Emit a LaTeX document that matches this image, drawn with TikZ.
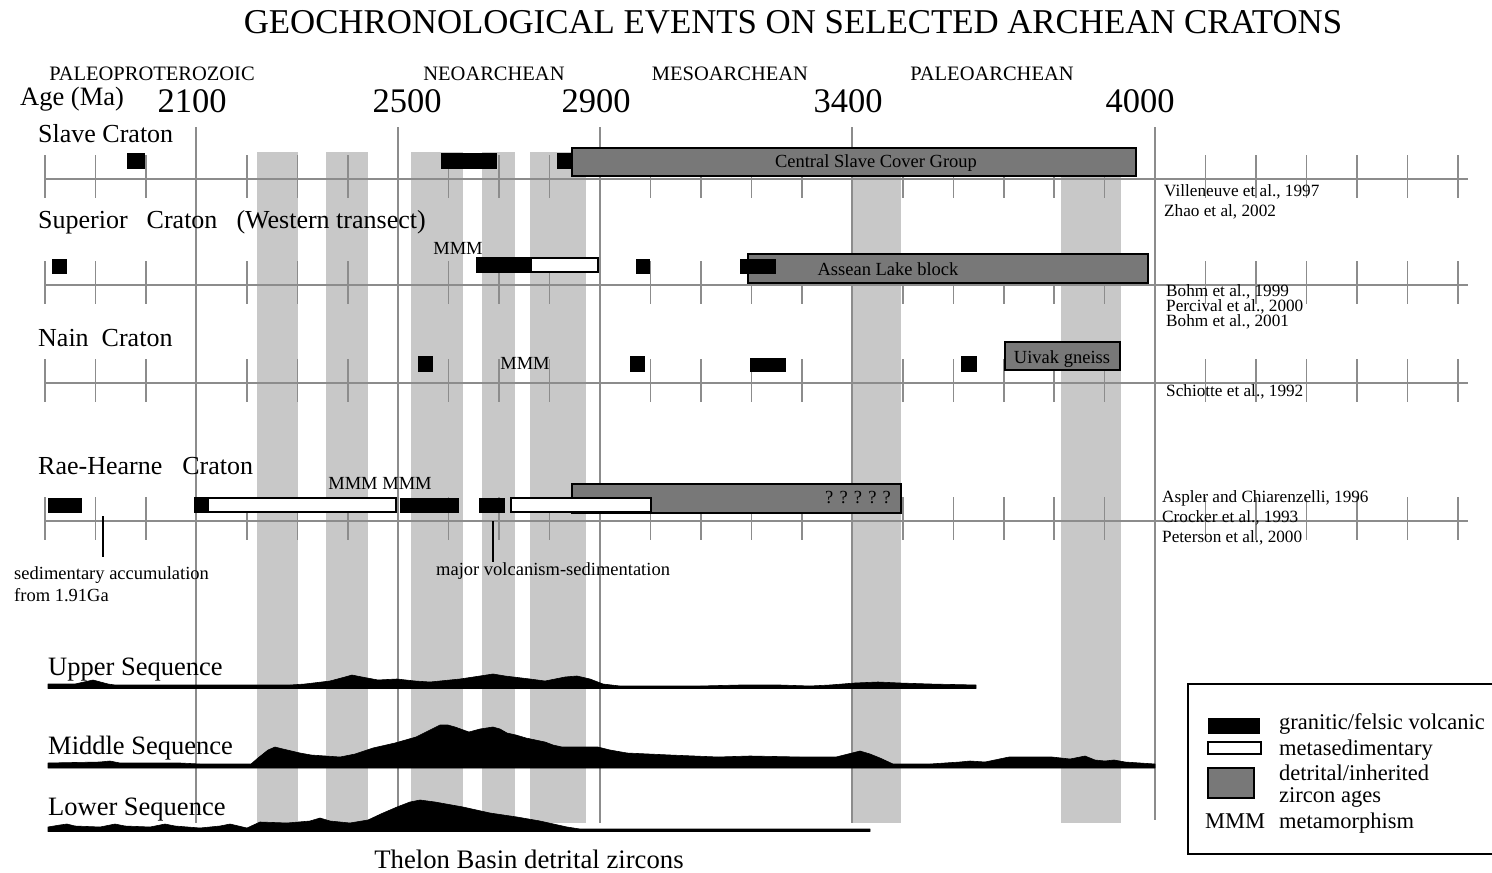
\documentclass[tikz,border=0pt]{standalone}
\usepackage{fontspec}
\setmainfont{Liberation Serif}
\definecolor{bandgray}{RGB}{200,200,200}
\definecolor{linegray}{RGB}{140,140,140}
\definecolor{boxgray}{RGB}{120,120,120}
\tikzset{
  band/.style={fill=bandgray},
  majorline/.style={draw=linegray, line width=1.5pt},
  axisline/.style={draw=linegray, line width=2pt},
  tickline/.style={draw=linegray, line width=1.5pt},
  blk/.style={fill=black, draw=black, line width=1pt},
  wht/.style={fill=white, draw=black, line width=1.8pt},
  gbox/.style={fill=boxgray, draw=black, line width=2pt},
  txt/.style={inner sep=0pt, anchor=base west},
  ctxt/.style={inner sep=0pt, anchor=base},
  era/.style={ctxt, font=\fontsize{20.5}{22}\selectfont},
  small/.style={font=\fontsize{18.5}{20}\selectfont},
  refs/.style={txt, font=\fontsize{17.2}{18}\selectfont},
  rowlab/.style={txt, font=\fontsize{26}{28}\selectfont},
  legt/.style={txt, font=\fontsize{22.5}{24}\selectfont},
  profile/.style={fill=black, draw=black, line width=0.6pt, line join=round}
}
\begin{document}
\begin{tikzpicture}[x=1pt,y=-1pt]
\useasboundingbox (0,0) rectangle (1492,873);
\fill[white] (0,0) rectangle (1492,873);

% grey age bands
\foreach \a/\b in {257/298,326/368,411/463,482/515,530/586,852/901,1061/1121}
  \fill[band] (\a,152) rectangle (\b,823);

% major age lines
\foreach \x in {196,398,600,852} \draw[majorline] (\x,127) -- (\x,823);
\draw[majorline] (1155,127) -- (1155,820);

% row axes and ticks
\foreach \y in {179,285,383,521} {
  \draw[axisline] (45,\y) -- (1468,\y);
  \foreach \k in {0,...,28}
    \draw[tickline] ({45+50.46*\k},{\y-24}) -- ({45+50.46*\k},{\y+19});
}

% title and scale
\node[ctxt, font=\fontsize{34.8}{36}\selectfont] (title) at (793,33) {GEOCHRONOLOGICAL EVENTS ON SELECTED ARCHEAN CRATONS};
\node[era] (paleop) at (152,80) {PALEOPROTEROZOIC};
\node[era] (neo) at (494,80) {NEOARCHEAN};
\node[era] (meso) at (730,80) {MESOARCHEAN};
\node[era] (paleoa) at (992,80) {PALEOARCHEAN};
\node[txt, font=\fontsize{26.5}{28}\selectfont] (age) at (20,105) {Age (Ma)};
\foreach \n/\x in {2100/192,2500/407,2900/596,3400/848,4000/1140}
  \node[ctxt, font=\fontsize{34.5}{36}\selectfont] (n\n) at (\x,112) {\n};

% row labels
\node[rowlab] (slave) at (38,142) {Slave Craton};
\node[rowlab] (superior) at (38,228) {Superior\hspace{19pt}Craton\hspace{19pt}(Western transect)};
\node[rowlab] (nain) at (38,346) {Nain\ \ Craton};
\node[rowlab] (rae) at (38,474) {Rae-Hearne\hspace{20pt}Craton};

% Slave craton
\draw[gbox] (572,148) rectangle (1136,176);
\node[ctxt, small] (csc) at (876,167) {Central Slave Cover Group};
\fill[blk] (127,153) rectangle (144,168);
\fill[blk] (441,153) rectangle (496,168);
\fill[blk] (557,153) rectangle (571,168);

% Superior craton
\draw[gbox] (748,254) rectangle (1148,283);
\node[ctxt, small] (assean) at (888,275) {Assean Lake block};
\fill[blk] (52,259) rectangle (66,273);
\draw[wht] (531,258) rectangle (598,272);
\fill[blk] (477,258) rectangle (531,272);
\draw[black, line width=1.8pt] (477,258) rectangle (598,272);
\fill[blk] (636,259) rectangle (649,273);
\fill[blk] (740,259) rectangle (775,273);
\node[ctxt, small] (mmm1) at (458,254) {MMM};

% Nain craton
\draw[gbox] (1005,342) rectangle (1120,370);
\node[ctxt, small] (uivak) at (1062,363) {Uivak gneiss};
\fill[blk] (418,356) rectangle (432,371);
\fill[blk] (630,356) rectangle (644,371);
\fill[blk] (750,358) rectangle (785,371);
\fill[blk] (961,356) rectangle (976,371);
\node[ctxt, small] (mmm2) at (525,369) {MMM};

% Rae-Hearne craton
\draw[gbox] (572,484) rectangle (901,513);
\node[ctxt, small] (qq) at (858,503) {? ? ? ? ?};
\fill[blk] (48,498) rectangle (81,512);
\draw[wht] (195,498) rectangle (396,512);
\fill[blk] (195,498) rectangle (208,512);
\fill[blk] (400,498) rectangle (458,512);
\fill[blk] (479,498) rectangle (504,512);
\draw[wht] (511,498) rectangle (651,512);
\node[ctxt, small] (mmm3) at (380,489) {MMM MMM};

\coordinate (sedtop) at (103,516);
\coordinate (sedbot) at (103,557);
\draw[black, line width=1.8pt] (sedtop) -- (sedbot);
\coordinate (voltop) at (493,521);
\coordinate (volbot) at (493,562);
\draw[black, line width=1.8pt] (voltop) -- (volbot);
\node[txt, small] (sed1) at (14,579) {sedimentary accumulation};
\node[txt, small] (sed2) at (14,601) {from 1.91Ga};
\node[txt, small] (volc) at (436,575) {major volcanism-sedimentation};

% references
\node[refs] (r1) at (1164,196) {Villeneuve et al., 1997};
\node[refs] (r2) at (1164,216) {Zhao et al, 2002};
\node[refs] (r3) at (1166,296) {Bohm et al., 1999};
\node[refs] (r4) at (1166,311) {Percival et al., 2000};
\node[refs] (r5) at (1166,326) {Bohm et al., 2001};
\node[refs] (r6) at (1166,396) {Schiotte et al., 1992};
\node[refs] (r7) at (1162,502) {Aspler and Chiarenzelli, 1996};
\node[refs] (r8) at (1162,522) {Crocker et al., 1993};
\node[refs] (r9) at (1162,542) {Peterson et al., 2000};

% sequences
\node[rowlab, font=\fontsize{26.5}{28}\selectfont] (upper) at (48,675) {Upper Sequence};
\node[rowlab, font=\fontsize{26.5}{28}\selectfont] (middle) at (48,754) {Middle Sequence};
\node[rowlab, font=\fontsize{26.5}{28}\selectfont] (lower) at (48,815) {Lower Sequence};
\node[ctxt, font=\fontsize{26.7}{28}\selectfont] (thelon) at (529,868) {Thelon Basin detrital zircons};

\filldraw[profile] (48,684) -- (75,684) -- (93,680) -- (108,684) -- (115,685) -- (290,685) -- (305,684) -- (330,681) -- (345,677) -- (352,675) -- (362,677) -- (378,680) -- (397,679) -- (415,681) -- (430,682) -- (460,679) -- (480,676) -- (493,674) -- (505,676) -- (530,679) -- (545,681) -- (565,677) -- (577,676) -- (590,679) -- (603,684) -- (620,686) -- (700,686) -- (740,685) -- (780,685) -- (810,686) -- (830,685) -- (855,683) -- (878,682) -- (900,683) -- (930,684) -- (976,685) -- (976,688.5) -- (48,688.5) -- cycle;

\filldraw[profile] (48,763) -- (100,762) -- (110,761) -- (120,763) -- (180,763) -- (200,764) -- (251,764) -- (258,758) -- (268,750) -- (275,747) -- (283,749) -- (300,753) -- (311,755) -- (340,757) -- (355,754) -- (373,748) -- (395,743) -- (416,737) -- (430,730) -- (440,725) -- (448,725) -- (455,727) -- (469,732) -- (480,729) -- (493,727) -- (500,729) -- (507,733) -- (516,735) -- (526,738) -- (545,742) -- (553,745) -- (562,747) -- (598,747) -- (610,750) -- (627,753) -- (670,755) -- (718,757) -- (750,756) -- (800,757) -- (836,757) -- (848,754) -- (860,751) -- (870,754) -- (880,758) -- (893,764) -- (930,764) -- (960,762) -- (970,761) -- (985,762) -- (1009,757) -- (1052,757) -- (1070,759) -- (1080,757) -- (1085,756) -- (1095,760) -- (1105,761) -- (1114,760) -- (1125,762) -- (1155,764) -- (1155,768) -- (48,768) -- cycle;

\filldraw[profile] (48,827) -- (60,825) -- (67,824) -- (75,826) -- (100,827) -- (115,824) -- (125,826) -- (150,827) -- (165,824) -- (175,826) -- (200,828) -- (220,826) -- (230,824) -- (247,828) -- (260,822) -- (287,823) -- (310,821) -- (320,818) -- (330,821) -- (350,823) -- (368,820) -- (383,813) -- (397,807) -- (410,802) -- (420,800) -- (435,802) -- (463,807) -- (490,813) -- (517,817) -- (540,821) -- (567,827) -- (580,829) -- (870,829) -- (870,831.5) -- (48,831.5) -- cycle;

% legend
\draw[black, line width=2pt] (1492,684) -- (1188,684) -- (1188,854) -- (1492,854);
\fill[blk] (1208,718) rectangle (1259,733);
\draw[wht] (1208,742) rectangle (1261,754);
\draw[gbox] (1208,768) rectangle (1254,798);
\node[legt] (l1) at (1279,729) {granitic/felsic volcanic};
\node[legt] (l2) at (1279,755) {metasedimentary};
\node[legt] (l3) at (1279,780) {detrital/inherited};
\node[legt] (l4) at (1279,802) {zircon ages};
\node[legt] (l5m) at (1205,828) {MMM};
\node[legt] (l5) at (1279,828) {metamorphism};
\end{tikzpicture}
\end{document}
